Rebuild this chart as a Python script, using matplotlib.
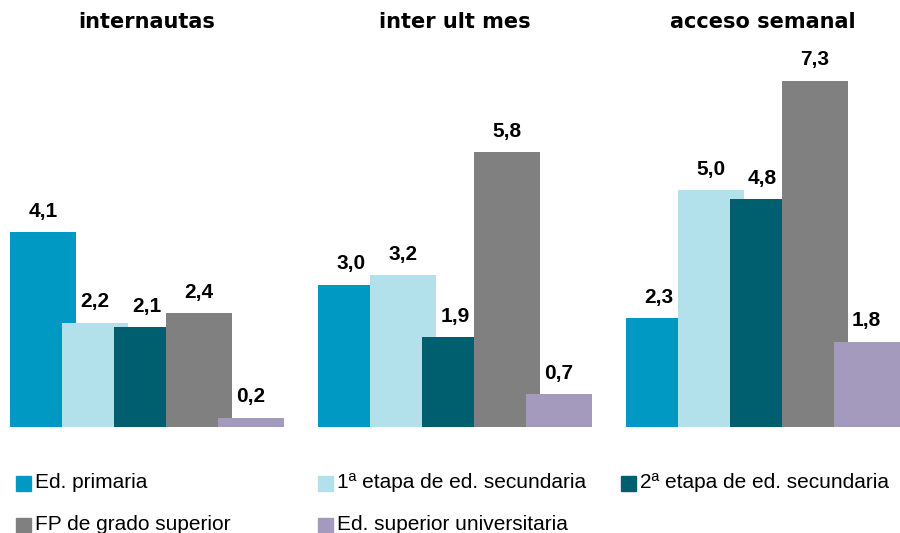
import numpy as np
import matplotlib.pyplot as plt
from matplotlib.patches import Rectangle

# Data
groups = ["internautas", "inter ult mes", "acceso semanal"]
series = ["Ed. primaria", "1ª etapa de ed. secundaria", "2ª etapa de ed. secundaria",
          "FP de grado superior", "Ed. superior universitaria"]
primaria = [4.1, 3.0, 2.3]
secundaria_1 = [2.2, 3.2, 5.0]
secundaria_2 = [2.1, 1.9, 4.8]
fp_superior = [2.4, 5.8, 7.3]
universitaria = [0.2, 0.7, 1.8]
values = [primaria, secundaria_1, secundaria_2, fp_superior, universitaria]

colors = ["#0099C4", "#B2E0EB", "#005F6E", "#808080", "#A39ABD"]

# Layout
group_step = 5.92
bar_width = 1.27

fig = plt.figure(figsize=(9, 5.33), dpi=100)
ax = fig.add_axes([0, 106 / 533, 1, 427 / 533])

for j, vals in enumerate(values):
    x = np.arange(len(groups)) * group_step + j
    ax.bar(x, vals, width=bar_width, color=colors[j], zorder=j + 1)
    for xi, v in zip(x, vals):
        ax.annotate(f"{v:.1f}".replace(".", ","), (xi, v), xytext=(0, 11),
                    textcoords="offset points", ha="center", va="baseline",
                    fontsize=15, fontweight="bold", family="Liberation Sans")

for g, name in enumerate(groups):
    ax.text(g * group_step + 2, 8.40, name, ha="center", va="baseline",
            fontsize=15, fontweight="bold", family="DejaVu Sans")

ax.set_xlim(-43 / 52, (900 - 43) / 52)
ax.set_ylim(0, 9.0)
ax.axis("off")

# Legend drawn by hand to match the original placement
leg_pos = [(16, 483), (318, 483), (621, 483), (16, 525), (318, 525)]
for (px, py), label, c in zip(leg_pos, series, colors):
    fig.patches.append(Rectangle((px / 900, 1 - (py + 8) / 533), 15 / 900, 15 / 533,
                                 transform=fig.transFigure, color=c))
    fig.text((px + 19) / 900, 1 - py / 533, label, ha="left", va="center",
             fontsize=15, family="Liberation Sans")

plt.savefig("out.png", dpi=100)
